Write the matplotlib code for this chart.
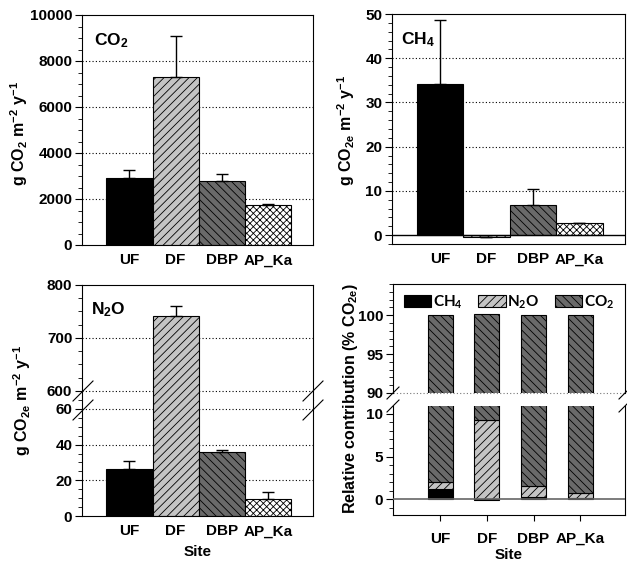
import numpy as np
import matplotlib
matplotlib.use("Agg")
import matplotlib.pyplot as plt
from matplotlib.lines import Line2D
from matplotlib.ticker import MultipleLocator

plt.rcParams['font.family'] = ['Liberation Sans', 'DejaVu Sans']
plt.rcParams['font.weight'] = 'bold'
plt.rcParams['axes.labelweight'] = 'bold'
plt.rcParams['font.size'] = 11
plt.rcParams['mathtext.default'] = 'regular'
plt.rcParams['hatch.linewidth'] = 0.6
plt.rcParams['axes.linewidth'] = 0.8

# data
sites = ['UF', 'DF', 'DBP', 'AP_Ka']
co2 = [2900, 7290, 2800, 1725]
co2_err = [360, 1790, 290, 40]
ch4 = [34.2, -0.4, 6.9, 2.8]
ch4_err = [14.4, 0.0, 3.6, 0.0]
n2o = [26.4, 741, 35.8, 9.6]
n2o_err = [4.6, 20, 1.2, 3.8]
# relative contribution (%)
rel_ch4 = [1.2, -0.1, 0.2, 0.1]
rel_n2o = [0.8, 9.3, 1.3, 0.6]
rel_co2 = [98.0, 90.8, 98.5, 99.3]

faces = ['black', '#c4c4c4', '#6a6a6a', 'white']
hatches = [None, '////', '\\\\\\\\', 'xxxxx']

W, H = 627, 562
fig = plt.figure(figsize=(W / 100, H / 100), dpi=100)

TS = 11  # tick label size


def pos(l, r, t, b):
    return [l / W, (H - b) / H, (r - l) / W, (b - t) / H]


def style(ax):
    ax.tick_params(axis='y', which='major', direction='out', length=5, width=0.8, labelsize=TS, pad=2)
    ax.tick_params(axis='y', which='minor', direction='out', length=3, width=0.6)
    ax.tick_params(axis='x', length=0, labelsize=TS, pad=6)
    ax.set_xlim(-1.03, 3.98)
    ax.set_xticks(range(4))
    ax.set_xticklabels(sites)


def bars(ax, vals, errs):
    x = np.arange(4)
    for i in range(4):
        ax.bar(x[i], vals[i], width=1.0, color=faces[i], edgecolor='black',
               hatch=hatches[i], linewidth=0.8, zorder=2)
    ax.errorbar(x, vals, yerr=[np.zeros(4), errs], fmt='none', ecolor='black',
                elinewidth=1, capsize=4, capthick=1, zorder=3)


def grid(ax, levels):
    for v in levels:
        ax.axhline(v, color='black', ls=(0, (1, 2)), lw=0.8, zorder=1)


def brk(x, y, s=10):
    fig.add_artist(Line2D([(x - s) / W, (x + s) / W], [(H - y - s) / H, (H - y + s) / H],
                          color='black', lw=0.8))


ylab_e = 'g CO$_{2e}$ m$^{-2}$ y$^{-1}$'

# --- CO2 ---
ax1 = fig.add_axes(pos(82, 313, 15, 245))
bars(ax1, co2, co2_err)
grid(ax1, [2000, 4000, 6000, 8000])
ax1.set_ylim(0, 10000)
ax1.yaxis.set_major_locator(MultipleLocator(2000))
ax1.yaxis.set_minor_locator(MultipleLocator(500))
style(ax1)
ax1.text(0.05, 0.93, 'CO$_2$', transform=ax1.transAxes, fontsize=12.5, va='top')
fig.text(19 / W, 1 - 133 / H, 'g CO$_2$ m$^{-2}$ y$^{-1}$',
         rotation=90, ha='center', va='center', fontsize=11.5)

# --- CH4 ---
ax2 = fig.add_axes(pos(392, 625, 14, 244))
bars(ax2, ch4, ch4_err)
grid(ax2, [10, 20, 30, 40])
ax2.axhline(0, color='black', lw=1, zorder=4)
ax2.set_ylim(-2, 50)
ax2.set_yticks([0, 10, 20, 30, 40, 50])
ax2.yaxis.set_minor_locator(MultipleLocator(2))
style(ax2)
ax2.text(0.04, 0.93, 'CH$_4$', transform=ax2.transAxes, fontsize=12.5, va='top')
fig.text(346 / W, 1 - 130 / H, ylab_e, rotation=90, ha='center', va='center', fontsize=11.5)

# --- N2O (broken axis) ---
ax3u = fig.add_axes(pos(82, 313, 285, 400))
ax3l = fig.add_axes(pos(82, 313, 400, 516))
for ax in (ax3u, ax3l):
    bars(ax, n2o, n2o_err)
    style(ax)
grid(ax3u, [600, 700])
grid(ax3l, [20, 40, 60])
ax3u.set_ylim(583, 800)
ax3u.set_yticks([600, 700, 800])
ax3u.yaxis.set_minor_locator(MultipleLocator(25))
ax3l.set_ylim(0, 65)
ax3l.set_yticks([0, 20, 40, 60])
ax3l.yaxis.set_minor_locator(MultipleLocator(5))
ax3u.spines['bottom'].set_visible(False)
ax3l.spines['top'].set_visible(False)
ax3u.tick_params(axis='x', labelbottom=False)
ax3u.text(0.04, 0.87, 'N$_2$O', transform=ax3u.transAxes, fontsize=12.5, va='top')
ax3l.set_xlabel('Site', fontsize=TS, labelpad=5)
fig.text(22 / W, 1 - 400 / H, ylab_e, rotation=90, ha='center', va='center', fontsize=11.5)
for xb in (83, 313):
    brk(xb, 391)
    brk(xb, 410)

# --- relative contribution (broken axis) ---
ax4u = fig.add_axes(pos(393, 625, 284, 393))
ax4l = fig.add_axes(pos(393, 625, 406, 515))
x = np.arange(4)
for ax in (ax4u, ax4l):
    ax.bar(x, rel_ch4, width=0.53, color=faces[0], edgecolor='black', lw=0.8, zorder=2, label='CH$_4$')
    ax.bar(x, rel_n2o, width=0.53, bottom=np.clip(rel_ch4, 0, None), color=faces[1],
           edgecolor='black', hatch=hatches[1], lw=0.8, zorder=2, label='N$_2$O')
    ax.bar(x, rel_co2, width=0.53, bottom=np.clip(rel_ch4, 0, None) + np.array(rel_n2o),
           color=faces[2], edgecolor='black', hatch=hatches[2], lw=0.8, zorder=2, label='CO$_2$')
    ax.tick_params(axis='y', which='major', direction='out', length=5, width=0.8, labelsize=TS, pad=2)
    ax.tick_params(axis='y', which='minor', direction='out', length=3, width=0.6)
    ax.set_xlim(-1.01, 3.96)
    ax.set_xticks(range(4))
    ax.yaxis.set_minor_locator(MultipleLocator(1))
ax4u.set_ylim(90, 104)
ax4u.set_yticks([90, 95, 100])
ax4u.axhline(90, color='#777777', ls=(0, (1, 2)), lw=0.8, clip_on=False)
ax4u.spines['bottom'].set_visible(False)
ax4u.tick_params(axis='x', length=0, labelbottom=False)
ax4l.set_ylim(-1.88, 10.94)
ax4l.set_yticks([0, 5, 10])
ax4l.axhline(0, color='#666666', lw=1.2, zorder=4)
ax4l.spines['top'].set_visible(False)
ax4l.tick_params(axis='x', direction='out', length=4, width=0.8, labelsize=TS, pad=8)
ax4l.set_xticklabels(sites)
ax4l.set_xlabel('Site', fontsize=TS, labelpad=2)
leg = ax4u.legend(loc='upper center', ncol=3, frameon=False, handlelength=1.8,
                  handleheight=0.8, handletextpad=0.1, columnspacing=1.0, borderaxespad=0.2,
                  prop={'family': 'Lato', 'weight': 'bold', 'size': 11})
fig.text(350 / W, 1 - 398 / H, 'Relative contribution (% CO$_{2e}$)',
         rotation=90, ha='center', va='center', fontsize=11.5)
for xb in (393, 625):
    brk(xb, 393, 6)
    brk(xb, 406, 6)

fig.savefig('out.png', dpi=100)
